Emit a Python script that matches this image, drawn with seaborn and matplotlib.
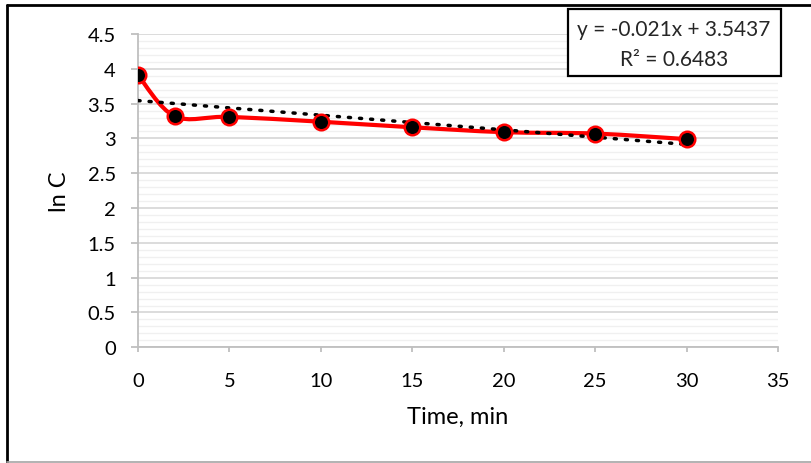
import numpy as np
import pandas as pd
import matplotlib
matplotlib.use('Agg')
import matplotlib.pyplot as plt
import seaborn as sns
from matplotlib.path import Path
from matplotlib.patches import PathPatch, Rectangle
from matplotlib.lines import Line2D
from matplotlib.ticker import MultipleLocator

# data
time_min = [0, 2, 5, 10, 15, 20, 25, 30]
ln_c = [3.91, 3.32, 3.31, 3.24, 3.16, 3.09, 3.07, 2.99]

# Excel trendline reported on the chart
slope = -0.021
intercept = 3.5437
r_squared = 0.6483

x_ticks = [0, 5, 10, 15, 20, 25, 30, 35]
y_ticks = [0, 0.5, 1, 1.5, 2, 2.5, 3, 3.5, 4, 4.5]

df = pd.DataFrame({'Time, min': time_min, 'ln C': ln_c})

sns.set_theme(style='white')
plt.rcParams['font.family'] = ['Lato', 'DejaVu Sans']

fig = plt.figure(figsize=(8.11, 4.64), dpi=100)
W, H = 811, 464
ax = fig.add_axes([138 / W, 1 - 348.3 / H, 640 / W, 313.3 / H])

# gridlines, excel style
ax.set_xlim(0, 35)
ax.set_ylim(0, 4.5)
ax.set_xticks(x_ticks)
ax.set_yticks(y_ticks)
ax.set_xticklabels([str(t) for t in x_ticks])
ax.set_yticklabels([f'{t:g}' for t in y_ticks])
ax.yaxis.set_minor_locator(MultipleLocator(0.1))
ax.grid(which='minor', axis='y', color='#f0f0f0', lw=1.0, zorder=0)
ax.grid(which='major', axis='y', color='#d9d9d9', lw=1.3, zorder=0)
ax.grid(False, axis='x')
ax.set_axisbelow(True)

# smoothed red line (bezier through the points, like excel "smoothed line")
pts = np.column_stack([time_min, ln_c]).astype(float)
ext = np.vstack([pts[0], pts, pts[-1]])
verts = [tuple(pts[0])]
codes = [Path.MOVETO]
for i in range(1, len(ext) - 2):
    p0, p1, p2, p3 = ext[i - 1], ext[i], ext[i + 1], ext[i + 2]
    c1 = p1 + (p2 - p0) / 6
    c2 = p2 - (p3 - p1) / 6
    verts += [tuple(c1), tuple(c2), tuple(p2)]
    codes += [Path.CURVE4] * 3
ax.add_patch(PathPatch(Path(verts, codes), fc='none', ec='#ff0000', lw=3.0,
                       capstyle='round', joinstyle='round', zorder=3))

# linear trendline
x_fit = np.array([time_min[0], time_min[-1]], dtype=float)
sns.lineplot(x=x_fit, y=slope * x_fit + intercept, ax=ax, color='black',
             lw=2.5, linestyle=(0, (0.6, 2.6)), dash_capstyle='round', zorder=4)

sns.scatterplot(data=df, x='Time, min', y='ln C', ax=ax, color='black',
                edgecolor='#ff0000', linewidth=1.8, s=125, zorder=5)

for s in ['top', 'right']:
    ax.spines[s].set_visible(False)
for s in ['left', 'bottom']:
    ax.spines[s].set_color('#bfbfbf')
    ax.spines[s].set_linewidth(1.3)

ax.tick_params(axis='y', which='major', length=5, width=1.3, color='#bfbfbf',
               pad=11, labelsize=14.5, labelcolor='black', left=True)
ax.tick_params(axis='y', which='minor', length=0)
ax.tick_params(axis='x', which='major', length=3.6, width=1.3, color='#bfbfbf',
               pad=14, labelsize=14.5, labelcolor='black', bottom=True)

ax.set_xlabel('Time, min', fontsize=17, color='black', va='center')
ax.set_ylabel('ln C', fontsize=17, color='black', va='center')
ax.xaxis.set_label_coords(0.5, -(417 - 348.3) / 313.3)
ax.yaxis.set_label_coords((60 - 138) / 640, 0.5)

# equation box
fig.add_artist(Rectangle((568 / W, 1 - 77 / H), 213 / W, 67 / H,
                         transform=fig.transFigure, fc='white', ec='black',
                         lw=1.6, zorder=10))
fig.text(674 / W, 1 - 30 / H, f'y = {slope}x + {intercept}', ha='center',
         va='center', fontsize=15, zorder=11)
fig.text(674 / W, 1 - 60 / H, f'R² = {r_squared}', ha='center', va='center',
         fontsize=15, zorder=11)

# outer chart frame
fig.add_artist(Line2D([6.5 / W, 6.5 / W], [1 - 5.5 / H, 1 - 463 / H],
                      transform=fig.transFigure, color='black', lw=2.0))
fig.add_artist(Line2D([6.5 / W, 1], [1 - 5.5 / H, 1 - 5.5 / H],
                      transform=fig.transFigure, color='black', lw=2.0))
fig.add_artist(Line2D([6.5 / W, 1], [1 - 463 / H, 1 - 463 / H],
                      transform=fig.transFigure, color='#a6a6a6', lw=1.2))

fig.savefig('out.png', dpi=100)
